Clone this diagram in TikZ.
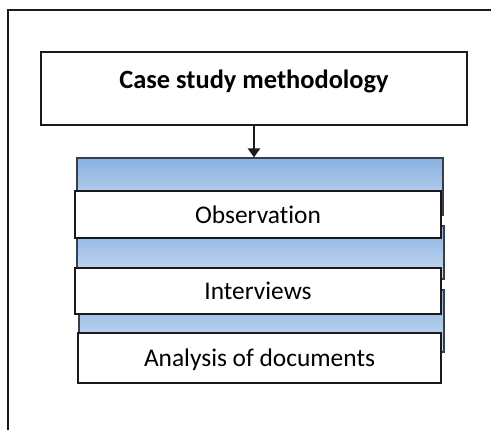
\documentclass[tikz,border=0pt]{standalone}
\usepackage{fontspec}
\setmainfont{Carlito}[Ligatures=CommonOff]
\usetikzlibrary{arrows.meta, positioning}
\definecolor{ink}{HTML}{1A1A1A}
\definecolor{bandtop}{HTML}{8AB1E1}
\definecolor{bandbot}{HTML}{CADCF2}
\definecolor{bandedge}{HTML}{34404E}
\tikzset{
  box/.style={
    draw=ink,
    line width=1.2bp,
    fill=white,
    inner sep=0pt,
    font=\fontsize{25.5}{30}\selectfont
  },
  header/.style={box, minimum width=426bp, minimum height=73bp,
    text height=18bp, text depth=18bp,
    font=\bfseries\fontsize{26.5}{30}\selectfont},
  item/.style={box, text height=17bp, text depth=0pt},
  band/.style={draw=bandedge, line width=1.2bp, inner sep=0pt,
    top color=bandtop, bottom color=bandbot},
  arrow/.style={-{Triangle[length=9bp, width=12bp]}, line width=2.6bp, draw=ink}
}

\begin{document}
\begin{tikzpicture}[x=1bp, y=-1bp]
\useasboundingbox (0,0) rectangle (491,430);

% open frame round the figure
\draw[ink, line width=1.5bp] (8,430) -- (8,10) -- (491,10);

\node[header] (method) at (254,88.5) {Case study methodology};

% shaded bands behind the list
\node[band, minimum width=366bp, minimum height=57bp] (band1) at (260,186.5) {};
\node[band, minimum width=367bp, minimum height=53bp] (band2) at (260.5,252.5) {};
\node[band, minimum width=365bp, minimum height=62bp] (band3) at (261.5,321) {};

\node[item, minimum width=366bp, minimum height=47bp] (obs) at (258,214.5) {Observation};
\node[item, minimum width=366bp, minimum height=46bp] (interviews) at (258,291) {Interviews};
\node[item, minimum width=363bp, minimum height=50bp] (documents) at (259.5,358) {Analysis of documents};

\draw[arrow] (method.south) -- (method.south |- band1.north);

\end{tikzpicture}
\end{document}
